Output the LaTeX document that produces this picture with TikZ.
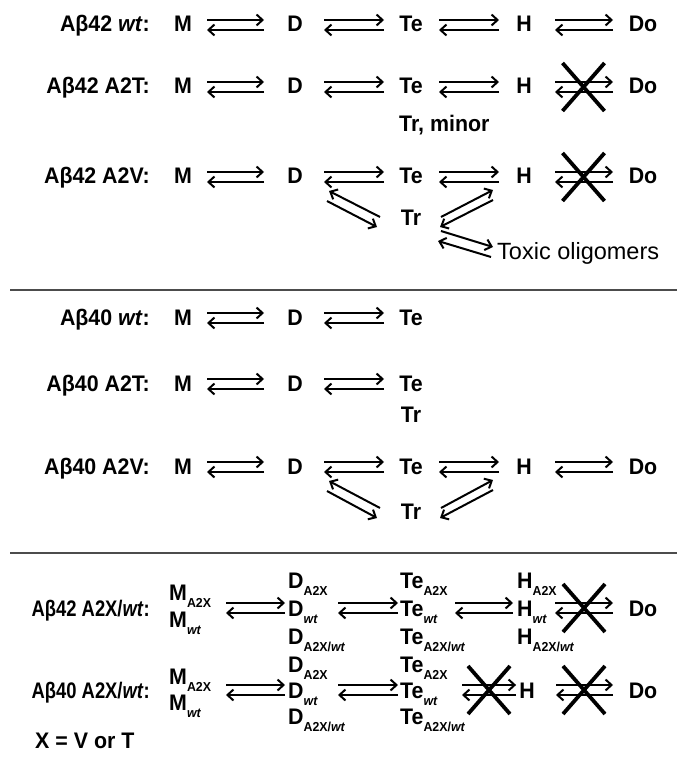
\documentclass[tikz,border=0pt]{standalone}
\usepackage{fontspec}
\setmainfont[FakeStretch=0.95]{Liberation Sans}
\newfontfamily\plainfam{Liberation Sans}
\usetikzlibrary{arrows.meta,calc}
\newcommand\bigf{\fontsize{22.5}{24}\selectfont\bfseries}
\newcommand\subf{\fontsize{13}{14}\selectfont\bfseries}
\newcommand\lo[1]{\raisebox{-7pt}{\subf #1}}
\newcommand\wt{\textit{wt}}
\newcommand\narrow[1]{\scalebox{0.86}[1]{#1}}
% equilibrium pair between two nodes: forward on top, backward below
\newcommand\eqlink[4]{%
  \draw[fwd] ([shift={(#3,-4)}]#1.center) -- ([shift={(-#4,-4)}]#2.center);
  \draw[fwd] ([shift={(-#4,6)}]#2.center) -- ([shift={(#3,6)}]#1.center);}
% heavy cross over a blocked step
\newcommand\blocked[1]{%
  \draw[xmk] ([shift={(-21,-24)}]#1) -- ([shift={(21,24)}]#1)
             ([shift={(21,-24)}]#1) -- ([shift={(-21,24)}]#1);}
\begin{document}
\begin{tikzpicture}[x=1pt,y=-1pt,
  sp/.style={font=\bigf,inner sep=0pt,text height=16pt,text depth=0pt},
  lbl/.style={sp,anchor=east},
  stk/.style={sp,anchor=west},
  fwd/.style={draw=black,line width=2pt,-{Straight Barb[length=6pt,width=11pt]}},
  xmk/.style={draw=black,line width=3.8pt},
  rule/.style={draw=black!70,line width=1.3pt}]
\useasboundingbox[fill=white] (0,0) rectangle (677,775);

% ---- A-beta 42 ----
\node[lbl] (L1) at (150,24) {Aβ42 \textit{wt}:};
\node[sp] (M1) at (183,24) {M};
\node[sp] (D1) at (295,24) {D};
\node[sp] (Te1) at (411,24) {Te};
\node[sp] (H1) at (524,24) {H};
\node[sp] (Do1) at (643,24) {Do};
\eqlink{M1}{D1}{24}{31}
\eqlink{D1}{Te1}{29}{27}
\eqlink{Te1}{H1}{28}{25}
\eqlink{H1}{Do1}{31}{30}

\node[lbl] (L2) at (150,86) {Aβ42 A2T:};
\node[sp] (M2) at (183,86) {M};
\node[sp] (D2) at (295,86) {D};
\node[sp] (Te2) at (411,86) {Te};
\node[sp] (H2) at (524,86) {H};
\node[sp] (Do2) at (643,86) {Do};
\node[sp,anchor=west] (Tr2) at (399,124) {Tr, minor};
\eqlink{M2}{D2}{24}{31}
\eqlink{D2}{Te2}{29}{27}
\eqlink{Te2}{H2}{28}{25}
\eqlink{H2}{Do2}{31}{30}
\coordinate (X2) at ($(H2)!0.5!(Do2)+(0,1)$);
\blocked{X2}

\node[lbl] (L3) at (150,176) {Aβ42 A2V:};
\node[sp] (M3) at (183,176) {M};
\node[sp] (D3) at (295,176) {D};
\node[sp] (Te3) at (411,176) {Te};
\node[sp] (H3) at (524,176) {H};
\node[sp] (Do3) at (643,176) {Do};
\node[sp] (Tr3) at (411,218) {Tr};
\node[anchor=west,inner sep=0pt,font=\plainfam\fontsize{23.5}{25}\selectfont,text height=16pt,text depth=0pt] (Tox) at (497,251) {Toxic oligomers};
\eqlink{M3}{D3}{24}{31}
\eqlink{D3}{Te3}{29}{27}
\eqlink{Te3}{H3}{28}{25}
\eqlink{H3}{Do3}{31}{30}
\coordinate (X3) at ($(H3)!0.5!(Do3)+(0,1)$);
\blocked{X3}
\draw[fwd] ($(Tr3)+(-31,-1)$) -- ($(D3)+(34,15)$);
\draw[fwd] ($(D3)+(32,25)$) -- ($(Tr3)+(-34,9)$);
\draw[fwd] ($(Tr3)+(30,-1)$) -- ($(H3)+(-31,14)$);
\draw[fwd] ($(H3)+(-31,24)$) -- ($(Tr3)+(29,9)$);
\draw[fwd] ($(Tr3)+(30,13)$) -- ($(Tox.west)+(-4,-4)$);
\draw[fwd] ($(Tox.west)+(-6,6)$) -- ($(Tr3)+(27,23)$);

\draw[rule] (10,290) coordinate (R1a) -- (677,290) coordinate (R1b);

% ---- A-beta 40 ----
\node[lbl] (L4) at (150,317) {Aβ40 \textit{wt}:};
\node[sp] (M4) at (183,317) {M};
\node[sp] (D4) at (295,317) {D};
\node[sp] (Te4) at (411,317) {Te};
\eqlink{M4}{D4}{24}{31}
\eqlink{D4}{Te4}{29}{27}

\node[lbl] (L5) at (150,383) {Aβ40 A2T:};
\node[sp] (M5) at (183,383) {M};
\node[sp] (D5) at (295,383) {D};
\node[sp] (Te5) at (411,383) {Te};
\node[sp] (Tr5) at (411,414) {Tr};
\eqlink{M5}{D5}{24}{31}
\eqlink{D5}{Te5}{29}{27}

\node[lbl] (L6) at (150,466) {Aβ40 A2V:};
\node[sp] (M6) at (183,466) {M};
\node[sp] (D6) at (295,466) {D};
\node[sp] (Te6) at (411,466) {Te};
\node[sp] (H6) at (524,466) {H};
\node[sp] (Do6) at (643,466) {Do};
\node[sp] (Tr6) at (411,511) {Tr};
\eqlink{M6}{D6}{24}{31}
\eqlink{D6}{Te6}{29}{27}
\eqlink{Te6}{H6}{28}{25}
\eqlink{H6}{Do6}{31}{30}
\draw[fwd] ($(Tr6)+(-31,-3)$) -- ($(D6)+(34,15)$);
\draw[fwd] ($(D6)+(32,25)$) -- ($(Tr6)+(-34,7)$);
\draw[fwd] ($(Tr6)+(30,-3)$) -- ($(H6)+(-31,14)$);
\draw[fwd] ($(H6)+(-31,24)$) -- ($(Tr6)+(29,7)$);

\draw[rule] (10,553) coordinate (R2a) -- (677,553) coordinate (R2b);

% ---- mixtures ----
\node[lbl] (L7) at (150,608) {\narrow{Aβ42 A2X/\textit{wt}:}};
\coordinate (M7) at (168,608);
\node[stk] (M7a) at (169,592) {M\lo{A2X}};
\node[stk] (M7b) at (169,619) {M\lo{\wt}};
\node[stk] (D7a) at (288,580) {D\lo{A2X}};
\node[stk] (D7b) at (288,608) {D\lo{\wt}};
\node[stk] (D7c) at (288,636) {D\lo{A2X/\wt}};
\node[stk] (Te7a) at (400,580) {Te\lo{A2X}};
\node[stk] (Te7b) at (400,608) {Te\lo{\wt}};
\node[stk] (Te7c) at (400,636) {Te\lo{A2X/\wt}};
\node[stk] (H7a) at (517,580) {H\lo{A2X}};
\node[stk] (H7b) at (517,608) {H\lo{\wt}};
\node[stk] (H7c) at (517,636) {H\lo{A2X/\wt}};
\node[sp] (Do7) at (643,608) {Do};
\draw[fwd] ([shift={(58,-5)}]M7) -- ([shift={(-3,-5)}]D7b.west);
\draw[fwd] ([shift={(-3,5)}]D7b.west) -- ([shift={(58,5)}]M7);
\draw[fwd] ([shift={(50,-5)}]D7b.west) -- ([shift={(-2,-5)}]Te7b.west);
\draw[fwd] ([shift={(-2,5)}]Te7b.west) -- ([shift={(50,5)}]D7b.west);
\draw[fwd] ([shift={(55,-5)}]Te7b.west) -- ([shift={(-4,-5)}]H7b.west);
\draw[fwd] ([shift={(-4,5)}]H7b.west) -- ([shift={(55,5)}]Te7b.west);
\draw[fwd] ([shift={(38,-5)}]H7b.west) -- ([shift={(-30,-5)}]Do7.center);
\draw[fwd] ([shift={(-30,5)}]Do7.center) -- ([shift={(38,5)}]H7b.west);
\coordinate (X7) at (584,608);
\blocked{X7}

\node[lbl] (L8) at (150,690) {\narrow{Aβ40 A2X/\textit{wt}:}};
\coordinate (M8) at (168,690);
\node[stk] (M8a) at (169,676) {M\lo{A2X}};
\node[stk] (M8b) at (169,702) {M\lo{\wt}};
\node[stk] (D8a) at (288,664) {D\lo{A2X}};
\node[stk] (D8b) at (288,690) {D\lo{\wt}};
\node[stk] (D8c) at (288,716) {D\lo{A2X/\wt}};
\node[stk] (Te8a) at (400,664) {Te\lo{A2X}};
\node[stk] (Te8b) at (400,690) {Te\lo{\wt}};
\node[stk] (Te8c) at (400,716) {Te\lo{A2X/\wt}};
\node[sp] (H8) at (527,690) {H};
\node[sp] (Do8) at (643,690) {Do};
\draw[fwd] ([shift={(58,-5)}]M8) -- ([shift={(-3,-5)}]D8b.west);
\draw[fwd] ([shift={(-3,5)}]D8b.west) -- ([shift={(58,5)}]M8);
\draw[fwd] ([shift={(50,-5)}]D8b.west) -- ([shift={(-2,-5)}]Te8b.west);
\draw[fwd] ([shift={(-2,5)}]Te8b.west) -- ([shift={(50,5)}]D8b.west);
\draw[fwd] ([shift={(62,-5)}]Te8b.west) -- ([shift={(-3,-5)}]H8.west);
\draw[fwd] ([shift={(-3,5)}]H8.west) -- ([shift={(62,5)}]Te8b.west);
\draw[fwd] ([shift={(29,-5)}]H8.center) -- ([shift={(-30,-5)}]Do8.center);
\draw[fwd] ([shift={(-30,5)}]Do8.center) -- ([shift={(29,5)}]H8.center);
\coordinate (X8a) at (489,690);
\coordinate (X8b) at (584,690);
\blocked{X8a}
\blocked{X8b}

\node[sp,anchor=west] (Xdef) at (35,740) {X = V or T};
\end{tikzpicture}
\end{document}
